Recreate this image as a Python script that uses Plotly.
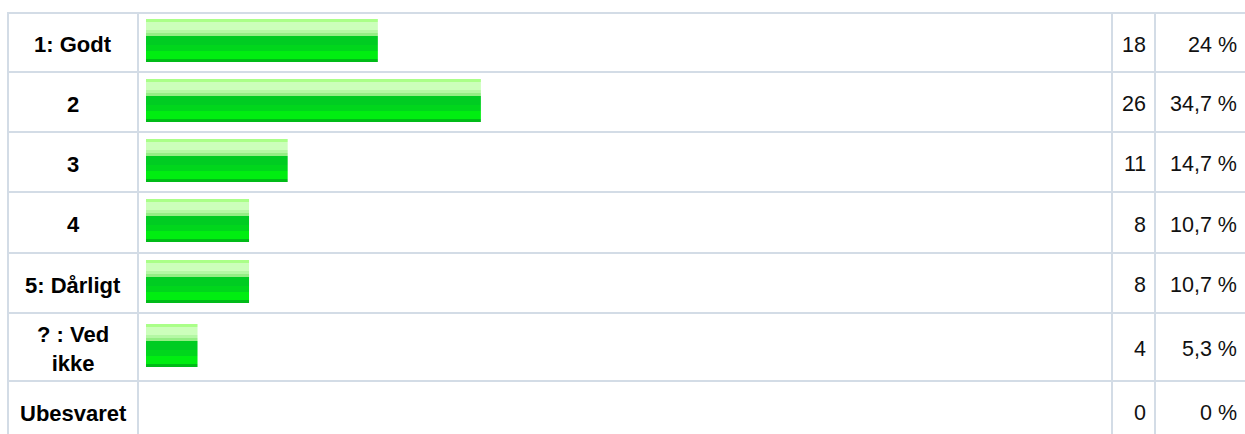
import plotly.graph_objects as go
import math

# ---- data ----
categories = ["1: Godt", "2", "3", "4", "5: Dårligt", "? : Ved<br>ikke", "Ubesvaret"]
counts = [18, 26, 11, 8, 8, 4, 0]
total = sum(counts)
percent_labels = []
for c in counts:
    p = round(c / total * 100, 1)
    s = ("%g" % p).replace(".", ",")
    percent_labels.append(s + " %")

# ---- layout constants ----
W, H = 1245, 434
row_heights = [59, 60, 60, 61, 60, 68, 60]
top0 = 13
bounds = [top0]
for h in row_heights:
    bounds.append(bounds[-1] + h)
centers = [(bounds[i] + bounds[i + 1]) / 2 for i in range(len(row_heights))]

bar_h = 43
stripe_h = [3, 8, 3, 3, 9, 6, 8, 3]
stripe_c = ["#aaff88", "#ccffbb", "#b4f8a4", "#94ee84", "#00cc22", "#00d61c", "#00ee11", "#00bb18"]

grid_col = "#d3dce6"
x0_px, x1_px = 146, 1112

fig = go.Figure()
bar_tops = [math.floor(c - 1.5 - bar_h / 2) for c in centers]
off = 0
for sh, col in zip(stripe_h, stripe_c):
    ys = [t + off + sh / 2 for t in bar_tops]
    fig.add_trace(go.Bar(
        x=counts, y=ys, orientation="h", width=sh,
        marker=dict(color=col, line=dict(width=0)),
        hoverinfo="skip", showlegend=False,
    ))
    off += sh

shapes = []
for b in bounds[:-1]:
    shapes.append(dict(type="line", xref="paper", yref="y", x0=7 / W, x1=1.0,
                       y0=b, y1=b, line=dict(color=grid_col, width=2), layer="below"))
for vx in [8, 138, 1112, 1155]:
    shapes.append(dict(type="line", xref="paper", yref="y", x0=vx / W, x1=vx / W,
                       y0=12, y1=H + 5, line=dict(color=grid_col, width=2), layer="below"))

font_family = "Liberation Sans, Arial, Helvetica, sans-serif"
annotations = []
for i, cat in enumerate(categories):
    ty = centers[i] + 2
    annotations.append(dict(xref="paper", yref="y", x=73 / W, y=ty, text="<b>%s</b>" % cat,
                            showarrow=False, xanchor="center", yanchor="middle",
                            font=dict(family=font_family, size=22, color="#000")))
    annotations.append(dict(xref="paper", yref="y", x=1148 / W, y=ty, text=str(counts[i]),
                            showarrow=False, xanchor="right", yanchor="middle",
                            font=dict(family=font_family, size=21.5, color="#111")))
    annotations.append(dict(xref="paper", yref="y", x=1239 / W, y=ty, text=percent_labels[i].replace(" ", "&nbsp;"),
                            showarrow=False, xanchor="right", yanchor="middle",
                            font=dict(family=font_family, size=21.5, color="#111")))

fig.update_layout(
    width=W, height=H,
    margin=dict(l=0, r=0, t=0, b=0),
    paper_bgcolor="white", plot_bgcolor="white",
    barmode="overlay",
    xaxis=dict(domain=[x0_px / W, x1_px / W], range=[0, total], visible=False, fixedrange=True),
    yaxis=dict(range=[H, 0], visible=False, fixedrange=True),
    shapes=shapes, annotations=annotations,
    showlegend=False,
)
fig.write_html("out.html", config={"displayModeBar": False},
               post_script="document.body.style.margin='0px';document.body.style.overflow='hidden';")
